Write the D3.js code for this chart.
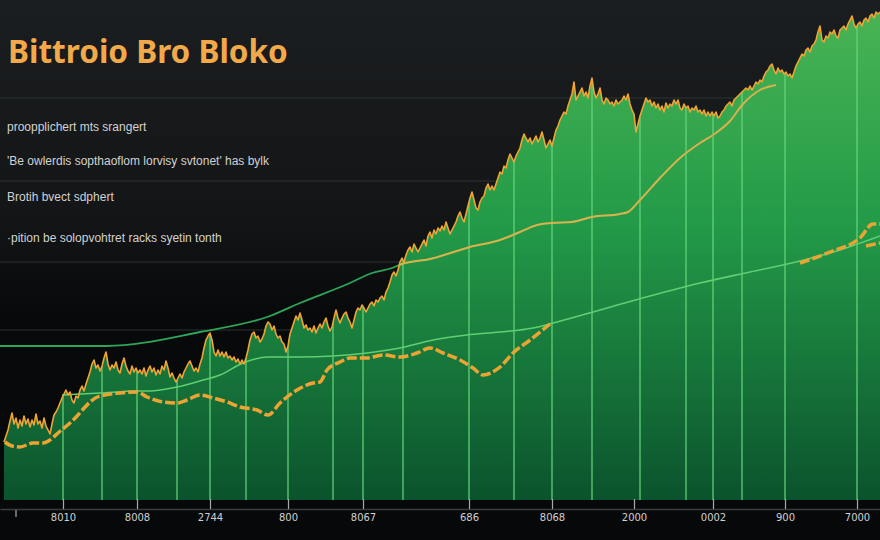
<!DOCTYPE html>
<html><head><meta charset="utf-8">
<script src="https://cdn.jsdelivr.net/npm/d3@7"></script>
<style>html,body{margin:0;padding:0;background:#0b0c0d;}svg{display:block}</style>
</head><body>
<svg id="chart" width="880" height="540"></svg>
<script>
// ---------- DATA ----------
const titleText = "Bittroio Bro Bloko";
const notes = [
  "proopplichert mts srangert",
  "'Be owlerdis sopthaoflom lorvisy svtonet' has bylk",
  "Brotih bvect sdphert",
  "·pition be solopvohtret racks syetin tonth"
];
// price index, one value per day starting at day 2
const priceStart = 2;
const priceValues = [
  58,64,70,79,87,76,82,72,80,74, 84,76,81,73,80,75,86,76,79,72,
  82,74,70,66,76,85,88,92,97,102, 106,110,105,108,100,97,104,102,110,114,
  109,116,122,128,136,140,132,135,129,134, 142,148,136,130,135,132,138,130,127,136,
  142,134,129,126,134,128,132,127,130,126, 132,124,130,134,128,132,125,130,126,134,
  130,139,132,123,127,122,118,122,126,122, 128,132,136,139,134,129,132,128,136,142,
  152,160,164,167,160,148,144,150,144,148, 143,148,142,144,140,143,138,141,136,140,
  136,142,150,160,166,168,162,164,158,161, 166,174,178,176,170,174,166,162,164,158,
  156,148,154,166,172,178,184,180,187,180, 172,175,170,172,168,174,167,172,176,172,
  178,182,174,169,173,182,190,182,177,182, 186,188,182,178,172,180,188,192,190,195,
  192,188,192,196,198,194,200,198,202,204, 200,208,212,218,225,228,224,230,238,242,
  238,245,250,253,248,256,252,248,252,256, 260,254,264,268,262,270,266,272,269,274,
  270,278,272,266,270,274,278,284,288,282, 278,286,294,302,308,300,292,290,298,302,
  304,312,316,310,314,310,316,322,328,326, 334,332,340,346,342,338,344,348,352,360,
  366,362,358,362,356,360,364,358,362,368, 360,352,356,360,354,362,370,374,380,384,
  388,386,394,400,406,418,400,404,408,412, 404,408,402,414,422,408,402,406,412,400,
  396,402,400,396,398,394,400,396,398,400, 404,400,406,396,390,386,368,376,384,390,
  396,402,398,400,394,398,392,396,390,394, 388,397,392,396,394,400,396,400,392,390,
  396,392,394,388,392,390,394,388,390,386, 390,384,388,384,388,384,388,382,384,388,
  390,394,396,398,394,400,402,404,406,408, 410,412,410,414,410,414,418,416,420,418,
  424,428,430,434,436,430,426,432,428,430, 426,428,424,426,422,428,434,438,442,446,
  444,450,452,448,454,456,460,468,474,460, 458,464,462,468,466,470,464,462,470,472,
  474,470,476,480,484,476,472,476,478,474, 480,482,478,484,486,482,488,486,488
];
// long trend line [day, value]
const trendLine = [[0,154],[53,154],[100,168],[135,184],[150,197],[175,217],[186,227],[196,232],
  [201,236],[215,241],[235,253],[250,260],[260,268],[268.5,275],[276,277],[286,278],[296,283],
  [310,286],[314,288],[320,300],[330,322],[340,342],[350,357],[356.5,365],[365,379],[371.5,396],
  [380,410],[388,415]];
// slow baseline [day, value]
const baseLine = [[31,105],[50,107],[68.5,109],[75,109],[88.5,113],[100,119],[110,125],[121.5,137],
  [134,143],[150,143],[166.5,144],[183.5,147],[200,152],[216.5,160],[233.5,165],[250,168],
  [266.5,172],[276.5,177],[300,190],[325,204],[350,217],[375,228],[400,239],[420,250],[440,264]];
// moving average [day, value]
const movingAvg = [[2.5,58],[6,54],[10,53],[16.5,57],[21.5,57],[25,60],[29,67],[35,77],[50,104],
  [68.5,108],[73.5,103],[81.5,98],[88.5,97],[93.5,100],[100,105],[106.5,102],[113.5,98],[120,93],
  [128.5,90],[134,85],[140,97],[148.5,110],[156.5,117],[160,118],[163.5,130],[170,138],[175,142],
  [183.5,142],[191.5,145],[200,143],[208.5,147],[215,152],[221.5,147],[230,140],[236.5,132],
  [241.5,125],[250,133],[256.5,147],[265,160],[275,176]];
const movingAvgTail = [[400,237],[415,248],[430,262],[436.5,276],[440,276]];
const movingAvgTail2 = [[433,254],[440,257]];
const gridValues = [170, 238, 319, 402];
const verticalDays = [31.5,51,68.5,88.5,105,123,144,166.5,181.5,201.5,234.5,257,276,296,320,343,356.5,371,392.5,428.5];
const tickDays = [31.5,68.5,105,144,181.5,234.5,276,317,356.5,392.5,428.5];
const tickLabels = ["8010","8008","2744","800","8067","686","8068","2000","0002","900","7000"];
const minorTickDays = [8];

// ---------- CHART ----------
const svg = d3.select("#chart");
const W = 880, H = 540;
const x = d3.scaleLinear().domain([0, 440]).range([0, 880]);
const y = d3.scaleLinear().domain([0, 500]).range([500, 0]);

const defs = svg.append("defs");
const bg = defs.append("linearGradient").attr("id","bg").attr("x1",0).attr("y1",0).attr("x2",0).attr("y2",1);
[[0,"#1b1e20"],[0.4,"#131517"],[0.58,"#08090a"],[1,"#07080a"]].forEach(s=>bg.append("stop").attr("offset",s[0]).attr("stop-color",s[1]));
const ag = defs.append("linearGradient").attr("id","areaGrad").attr("gradientUnits","userSpaceOnUse")
  .attr("x1",0).attr("y1",0).attr("x2",0).attr("y2",500);
[[0,"#4ab555"],[0.45,"#239a48"],[1,"#0b532d"]].forEach(s=>ag.append("stop").attr("offset",s[0]).attr("stop-color",s[1]));

svg.append("rect").attr("width",W).attr("height",H).attr("fill","url(#bg)");

// horizontal grid
svg.append("g").selectAll("line").data(gridValues).join("line")
  .attr("x1",0).attr("x2",W).attr("y1",d=>y(d)).attr("y2",d=>y(d))
  .attr("stroke","#2c3230").attr("stroke-width",1);

// title & notes
const title = svg.append("text").attr("x",8).attr("y",63)
  .attr("font-family","'Noto Sans', 'Open Sans', sans-serif").attr("font-weight",700)
  .attr("font-size",32).attr("fill","#f2a94a").text(titleText);
const tw = title.node().getComputedTextLength();
title.attr("font-size", 32 * 280 / tw);

const noteY = [131, 165, 201, 242];
svg.append("g").selectAll("text").data(notes).join("text")
  .attr("x",7).attr("y",(d,i)=>noteY[i])
  .attr("font-family","'Liberation Sans', Arial, sans-serif").attr("font-size",12)
  .attr("fill","#d2d2d2").text(d=>d);

// price area
const priceData = priceValues.map((v,i)=>[priceStart+i, v]);
const area = d3.area().x(d=>x(d[0])).y0(y(0)).y1(d=>y(d[1]));
const lineGen = d3.line().x(d=>x(d[0])).y(d=>y(d[1]));
defs.append("clipPath").attr("id","areaClip").append("path").attr("d",area(priceData));
svg.append("path").attr("d",area(priceData)).attr("fill","url(#areaGrad)");

// vertical lines inside the area
svg.append("g").attr("clip-path","url(#areaClip)").selectAll("line").data(verticalDays).join("line")
  .attr("x1",d=>x(d)).attr("x2",d=>x(d)).attr("y1",0).attr("y2",y(0))
  .attr("stroke","#66d77c").attr("stroke-opacity",0.8).attr("stroke-width",1.5);

// baseline
const smooth = d3.line().x(d=>x(d[0])).y(d=>y(d[1])).curve(d3.curveMonotoneX);
svg.append("path").attr("d",smooth(baseLine)).attr("fill","none")
  .attr("stroke","#5fcf72").attr("stroke-width",1.6);

// trend line: green over dark, tan over the area
svg.append("path").attr("d",smooth(trendLine)).attr("fill","none")
  .attr("stroke","#2ea65a").attr("stroke-width",1.8);
svg.append("path").attr("d",smooth(trendLine)).attr("fill","none").attr("clip-path","url(#areaClip)")
  .attr("stroke","#d9b24c").attr("stroke-width",2);

// moving average dashed
[movingAvg, movingAvgTail, movingAvgTail2].forEach(s=>{
  svg.append("path").attr("d",smooth(s)).attr("fill","none")
    .attr("stroke","#eba434").attr("stroke-width",3.5).attr("stroke-dasharray","10 3")
    .attr("stroke-linecap","butt");
});

// price line
svg.append("path").attr("d",lineGen(priceData)).attr("fill","none")
  .attr("stroke","#f0a433").attr("stroke-width",1.6).attr("stroke-linejoin","round");

// axis
const axis = d3.axisBottom(x).tickValues(tickDays).tickFormat((d,i)=>tickLabels[i])
  .tickSizeInner(-10).tickSizeOuter(0).tickPadding(5);
const ag2 = svg.append("g").attr("transform","translate(0,509)").call(axis);
ag2.select(".domain").attr("stroke","#3a3d3f").attr("stroke-width",1.5);
ag2.selectAll(".tick line").attr("stroke","#a8a8a8").attr("stroke-width",1.2);
ag2.selectAll(".tick text").attr("fill","#cfcfcf").attr("font-size",10)
  .attr("font-family","'DejaVu Sans', sans-serif");
svg.append("g").selectAll("line").data(minorTickDays).join("line")
  .attr("x1",d=>x(d)).attr("x2",d=>x(d)).attr("y1",510).attr("y2",517)
  .attr("stroke","#a8a8a8").attr("stroke-width",1.2);
</script>
</body></html>
